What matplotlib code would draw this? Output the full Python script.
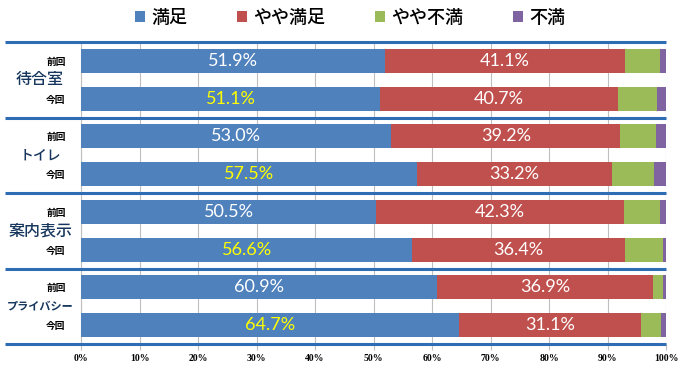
import matplotlib
matplotlib.use("Agg")
import matplotlib.pyplot as plt
from matplotlib.patches import Patch
import numpy as np

plt.rcParams['font.family'] = ['Noto Sans CJK JP', 'DejaVu Sans']

groups = ['待合室', 'トイレ', '案内表示', 'プライバシー']
periods = ['前回', '今回']
series_names = ['満足', 'やや満足', 'やや不満', '不満']
satisfied = [51.9, 51.1, 53.0, 57.5, 50.5, 56.6, 60.9, 64.7]
somewhat_satisfied = [41.1, 40.7, 39.2, 33.2, 42.3, 36.4, 36.9, 31.1]
somewhat_dissatisfied = [6.0, 6.6, 6.1, 7.2, 6.2, 6.5, 1.7, 3.3]
dissatisfied = [1.0, 1.6, 1.7, 2.1, 1.0, 0.5, 0.5, 0.9]
xticks = [0, 10, 20, 30, 40, 50, 60, 70, 80, 90, 100]

colors = ['#4F81BD', '#C0504D', '#9BBB59', '#8064A2']
series = [satisfied, somewhat_satisfied, somewhat_dissatisfied, dissatisfied]

fig = plt.figure(figsize=(6.8, 3.68), dpi=100)
ax = fig.add_axes([81/680, 1 - 344/368, (666-81)/680, (344-42)/368])

n = len(satisfied)
y = np.arange(n)
left = np.zeros(n)
for vals, c in zip(series, colors):
    ax.barh(y, vals, left=left, height=0.64, color=c, edgecolor='none', zorder=3)
    left += np.array(vals)

# value labels
for i in range(n):
    col_blue = '#FFFF00' if i % 2 == 1 else 'white'
    ax.text(satisfied[i] / 2, y[i], f'{satisfied[i]:.1f}%', ha='center', va='center',
            color=col_blue, fontsize=13, family=['Lato'], zorder=4)
    ax.text(satisfied[i] + somewhat_satisfied[i] / 2, y[i], f'{somewhat_satisfied[i]:.1f}%',
            ha='center', va='center', color='white', fontsize=13, family=['Lato'], zorder=4)

ax.set_xlim(0, 100)
ax.set_ylim(n - 0.5, -0.5)
ax.set_xticks(xticks)
ax.set_xticklabels([f'{t}%' for t in xticks], fontsize=7, family=['Liberation Serif'],
                   fontweight='bold')
ax.tick_params(axis='x', length=4, color='#BFBFBF', pad=3)
ax.grid(axis='x', color='#BFBFBF', linewidth=0.8, zorder=0)
for s in ['top', 'right', 'bottom']:
    ax.spines[s].set_visible(False)
ax.spines['left'].set_color('#BFBFBF')

ax.set_yticks(y)
ax.set_yticklabels([periods[i % 2] for i in range(n)], fontsize=7, fontweight='bold')
ax.tick_params(axis='y', length=0, pad=11)

# group labels
sizes = [11.5, 10, 11.5, 8]
weights = ['medium', 'medium', 'medium', 'bold']
for g, name in enumerate(groups):
    ax.text(-7.0, 2 * g + 0.5, name, ha='center', va='center', color='#17365D',
            fontsize=sizes[g], fontweight=weights[g], clip_on=False)

# separator lines
trans = ax.get_yaxis_transform()
for ys in [-0.5, 1.5, 3.5, 5.5, 7.5]:
    ax.plot([-0.13, 1.0], [ys, ys], transform=trans, color='#2E6DB4', linewidth=2.2,
            clip_on=False, zorder=5, solid_capstyle='butt')

handles = [Patch(facecolor=c, edgecolor='none') for c in colors]
fig.legend(handles, series_names, loc='center', bbox_to_anchor=(0.515, 0.952), ncol=4,
           frameon=False, fontsize=13, handlelength=0.55, handleheight=0.55,
           handletextpad=0.35, columnspacing=2.75, prop={'size': 13, 'weight': 'medium'})

fig.savefig('out.png', dpi=100)
